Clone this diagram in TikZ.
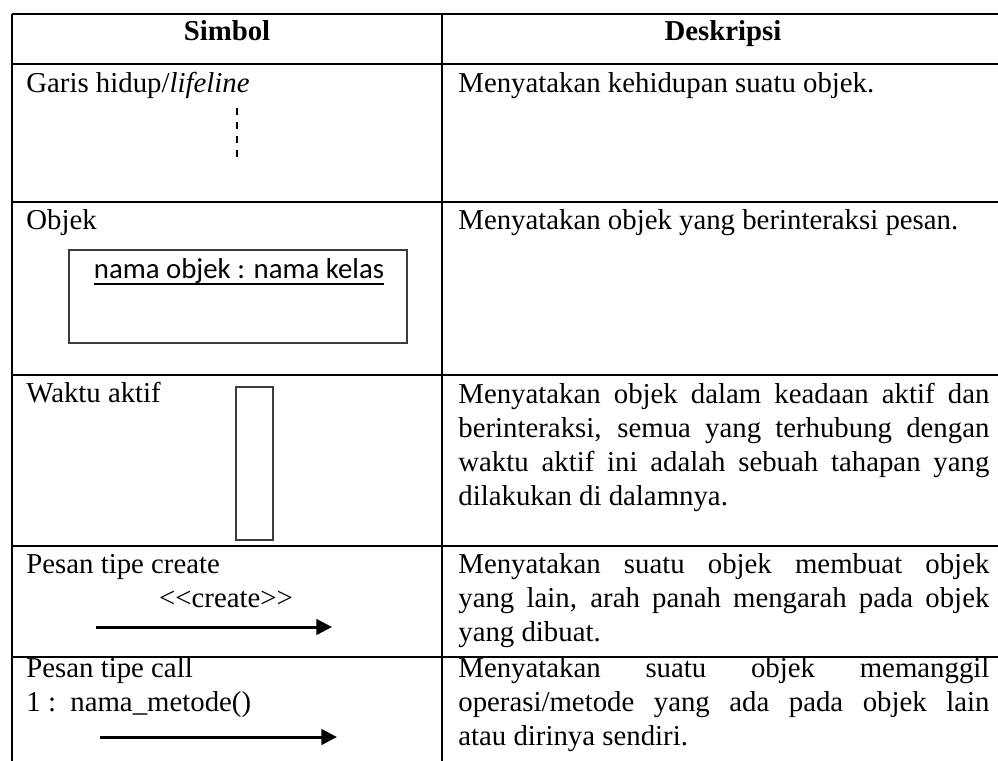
\documentclass[tikz,border=0pt]{standalone}
\usepackage{fontspec}
\setmainfont{Liberation Serif}
\newfontfamily\calibrifont{Carlito}
\usepackage{tikz}
\usetikzlibrary{arrows.meta}
\usepackage{xcolor}
\definecolor{boxgray}{RGB}{60,60,60}
\tikzstyle{rule} = [line width=0.9pt]
\tikzstyle{celltext} = [anchor=base west, inner sep=0pt, font=\fontsize{14.4}{17}\selectfont]
\tikzstyle{headtext} = [anchor=base, inner sep=0pt, font=\fontsize{14.4}{17}\selectfont\bfseries]
\tikzstyle{desctext} = [celltext, text width=265.5pt, align=justify, execute at begin node={\tolerance=10000\relax\hyphenpenalty=10000\relax}]
\tikzstyle{msgarrow} = [line width=1.5pt, -{Triangle[length=7.8pt,width=7.7pt]}]
\tikzstyle{umlbox} = [draw=boxgray, line width=1pt]

\begin{document}
\begin{tikzpicture}[x=0.5pt, y=-0.5pt]
\useasboundingbox (0,0) rectangle (998,761);

% Table rules
\draw[rule] (12,14) -- (12,761);
\draw[rule] (442,14) -- (442,761);
\foreach \y in {14,64,202,375,546,657}
  \draw[rule] (12,\y) -- (998,\y);

% Header
\node[headtext] (simbol) at (227,40) {Simbol};
\node[headtext] (deskripsi) at (723,40) {Deskripsi};

% Lifeline
\node[celltext] (lifelinetext) at (26,92) {Garis hidup/\textit{lifeline}};
\draw[line width=1pt, dash pattern=on 3.5pt off 3.5pt] (237,108) -- (237,158);
\node[celltext] (lifelinedesc) at (458,92) {Menyatakan kehidupan suatu objek.};

% Object
\node[celltext] (objektext) at (26,229) {Objek};
\draw[umlbox] (69,250) rectangle (407,343);
\node[anchor=base, inner sep=0pt, font=\calibrifont\fontsize{14.4}{17}\selectfont] (objlabel) at (239,278) {nama objek : nama kelas};
\draw[line width=0.8pt] ([yshift=-3pt]objlabel.base west) -- ([yshift=-3pt]objlabel.base east);
\node[celltext] (objekdesc) at (458,229) {Menyatakan objek yang berinteraksi pesan.};

% Activation
\node[celltext] (aktiftext) at (26,402) {Waktu aktif};
\draw[umlbox] (236,387) rectangle (273,540);
\node[desctext] (aktifdesc) at (458,403) {Menyatakan objek dalam keadaan aktif dan\linebreak
  berinteraksi, semua yang terhubung dengan\linebreak
  waktu aktif ini adalah sebuah tahapan yang\linebreak
  dilakukan di dalamnya.};

% Create message
\node[celltext] (createtext) at (26,573) {Pesan tipe create};
\node[anchor=base, inner sep=0pt, font=\fontsize{14.4}{17}\selectfont] (createlabel) at (226,607) {<\kern0pt<create>\kern0pt>};
\coordinate (createstart) at (96,627);
\coordinate (createend) at (332,627);
\draw[msgarrow] (createstart) -- (createend);
\node[desctext] (createdesc) at (458,573) {Menyatakan suatu objek membuat objek\linebreak
  yang lain, arah panah mengarah pada objek\linebreak
  yang dibuat.};

% Call message
\node[celltext] (calltext) at (26,677) {Pesan tipe call};
\node[celltext] (calllabel) at (26,711) {1 :~~nama\_metode()};
\coordinate (callstart) at (100,737);
\coordinate (callend) at (337,737);
\draw[msgarrow] (callstart) -- (callend);
\node[desctext] (calldesc) at (458,677) {Menyatakan suatu objek memanggil\linebreak
  operasi/metode yang ada pada objek lain\linebreak
  atau dirinya sendiri.};
\end{tikzpicture}
\end{document}
